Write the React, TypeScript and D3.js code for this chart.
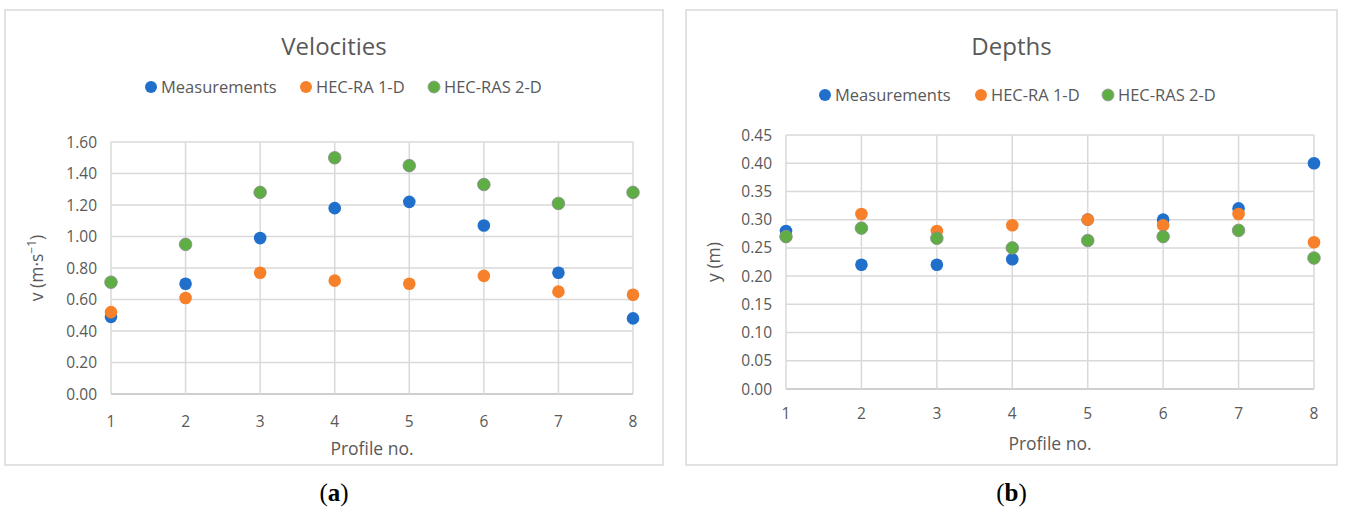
import * as d3 from 'd3'

const profiles = [1, 2, 3, 4, 5, 6, 7, 8]
const seriesNames = ['Measurements', 'HEC-RA 1-D', 'HEC-RAS 2-D']

const velMeasured = [0.49, 0.70, 0.99, 1.18, 1.22, 1.07, 0.77, 0.48]
const velRa1d = [0.52, 0.61, 0.77, 0.72, 0.70, 0.75, 0.65, 0.63]
const velRas2d = [0.71, 0.95, 1.28, 1.50, 1.45, 1.33, 1.21, 1.28]
const velTicks = [0, 0.2, 0.4, 0.6, 0.8, 1.0, 1.2, 1.4, 1.6]

const depMeasured = [0.28, 0.22, 0.22, 0.23, 0.30, 0.30, 0.32, 0.40]
const depRa1d = [0.27, 0.31, 0.28, 0.29, 0.30, 0.29, 0.31, 0.26]
const depRas2d = [0.27, 0.285, 0.267, 0.25, 0.263, 0.27, 0.281, 0.232]
const depTicks = [0, 0.05, 0.1, 0.15, 0.2, 0.25, 0.3, 0.35, 0.4, 0.45]

const colors = ['#1f6fcb', '#f7802a', '#5fae45']
const font = 'Open Sans, Noto Sans, sans-serif'
const textColor = '#595959'

interface PanelProps {
  box: { x: number; y: number; w: number; h: number }
  plot: { left: number; right: number; top: number; bottom: number }
  title: string
  yLabel: React.ReactNode
  ticks: number[]
  series: number[][]
  legendX: number[]
  legendY: number
  xTickY: number
  xTitleY: number
  yTitleX: number
  tag: string
}

const Panel = ({ box, plot, title, yLabel, ticks, series, legendX, legendY, xTickY, xTitleY, yTitleX, tag }: PanelProps) => {
  const x = d3.scaleLinear().domain([1, 8]).range([plot.left, plot.right])
  const y = d3.scaleLinear().domain([0, ticks[ticks.length - 1]]).range([plot.bottom, plot.top])
  const cx = (box.x + box.x + box.w) / 2
  const midY = (plot.top + plot.bottom) / 2
  return (
    <g>
      <rect x={box.x} y={box.y} width={box.w} height={box.h} fill="#fff" stroke="#d9d9d9" strokeWidth={1.5} />
      <text x={cx} y={55} textAnchor="middle" fontSize={24} fill={textColor} fontFamily={font}>{title}</text>
      {seriesNames.map((n, i) => (
        <g key={n}>
          <circle cx={legendX[i]} cy={legendY} r={6} fill={colors[i]} stroke={i === 2 ? '#999' : 'none'} strokeWidth={0.8} />
          <text x={legendX[i] + 10} y={legendY + 5.5} fontSize={16.5} fill={textColor} fontFamily={font}>{n}</text>
        </g>
      ))}
      {ticks.map(t => (
        <g key={t}>
          <line x1={plot.left} x2={plot.right} y1={y(t)} y2={y(t)} stroke={t === 0 ? '#bfbfbf' : '#d9d9d9'} strokeWidth={1.5} />
          <text x={plot.left - 14} y={y(t) + 5.5} textAnchor="end" fontSize={15.5} fill={textColor} fontFamily={font}>{t.toFixed(2)}</text>
        </g>
      ))}
      {profiles.map(p => (
        <g key={p}>
          <line x1={x(p)} x2={x(p)} y1={plot.top} y2={plot.bottom} stroke="#d9d9d9" strokeWidth={1.5} />
          <text x={x(p)} y={xTickY} textAnchor="middle" fontSize={15.5} fill={textColor} fontFamily={font}>{p}</text>
        </g>
      ))}
      {series.map((vals, i) => (
        <g key={i}>
          {vals.map((v, j) => (
            <circle key={j} cx={x(profiles[j])} cy={y(v)} r={6.3} fill={colors[i]} stroke={i === 2 ? '#8c8c8c' : 'none'} strokeWidth={0.8} />
          ))}
        </g>
      ))}
      <text x={(plot.left + plot.right) / 2} y={xTitleY} textAnchor="middle" fontSize={17.5} fill={textColor} fontFamily={font}>Profile no.</text>
      <text transform={`translate(${yTitleX},${midY}) rotate(-90)`} textAnchor="middle" fontSize={17.5} fill={textColor} fontFamily={font}>{yLabel}</text>
      <text x={cx} y={501} textAnchor="middle" fontSize={25} fill="#000" fontFamily="Liberation Serif, serif">
        (<tspan fontWeight="bold">{tag}</tspan>)
      </text>
    </g>
  )
}

export default function App() {
  return (
    <svg width={1346} height={508} style={{ position: 'absolute', left: 0, top: 0, background: '#fff' }}>
      <Panel
        box={{ x: 5, y: 10, w: 658, h: 455 }}
        plot={{ left: 111, right: 633, top: 142, bottom: 394 }}
        title="Velocities"
        yLabel={<>v (m·s<tspan dy={-7} fontSize={12}>−1</tspan><tspan dy={7}>)</tspan></>}
        ticks={velTicks}
        series={[velMeasured, velRa1d, velRas2d]}
        legendX={[151, 306, 434]}
        legendY={87}
        xTickY={427}
        xTitleY={455}
        yTitleX={43}
        tag="a"
      />
      <Panel
        box={{ x: 686, y: 10, w: 651, h: 455 }}
        plot={{ left: 786, right: 1314, top: 135, bottom: 389 }}
        title="Depths"
        yLabel="y (m)"
        ticks={depTicks}
        series={[depMeasured, depRa1d, depRas2d]}
        legendX={[825, 981, 1108]}
        legendY={95}
        xTickY={419}
        xTitleY={450}
        yTitleX={720}
        tag="b"
      />
    </svg>
  )
}
